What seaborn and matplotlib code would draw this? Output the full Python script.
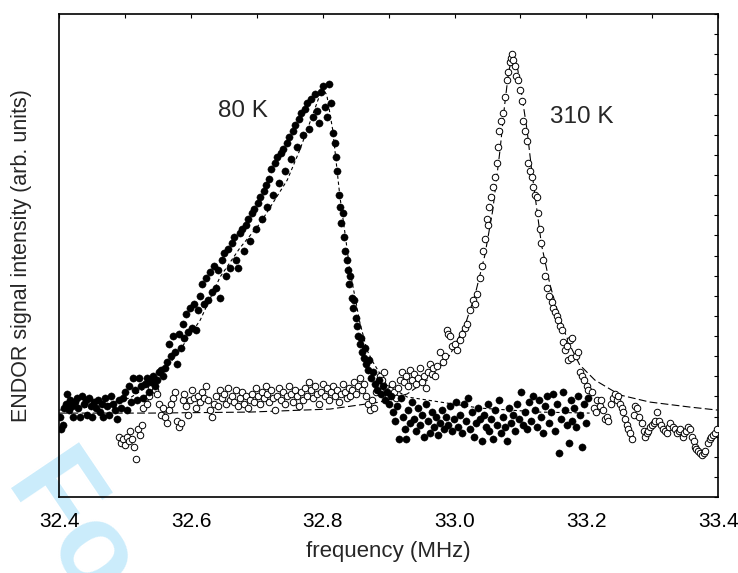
import matplotlib
matplotlib.use("Agg")
import matplotlib.pyplot as plt
import seaborn as sns
import pandas as pd
from matplotlib.ticker import MultipleLocator, NullFormatter

# ---- 80 K spectrum (filled circles) ----
freq_80k = [
    32.401, 32.403, 32.405, 32.407, 32.410, 32.412, 32.414, 32.416, 32.419, 32.421,
    32.424, 32.427, 32.429, 32.432, 32.434, 32.437, 32.440, 32.442, 32.445, 32.448,
    32.450, 32.453, 32.456, 32.459, 32.462, 32.465, 32.467, 32.470, 32.473, 32.476,
    32.479, 32.482, 32.485, 32.488, 32.491, 32.494, 32.497,
    32.500, 32.503, 32.506, 32.509, 32.512, 32.515, 32.518, 32.521, 32.524, 32.527,
    32.530, 32.533, 32.536, 32.539, 32.542, 32.545, 32.548, 32.551, 32.554, 32.557, 32.560,
    32.563, 32.566, 32.569, 32.572, 32.575, 32.578, 32.581, 32.584, 32.587, 32.590,
    32.593, 32.596, 32.599, 32.602, 32.605, 32.608, 32.611, 32.614, 32.617, 32.620,
    32.623, 32.626, 32.629, 32.632, 32.635, 32.638, 32.641, 32.644, 32.647, 32.650,
    32.653, 32.656, 32.659, 32.662, 32.665, 32.668, 32.671, 32.674, 32.677, 32.680,
    32.683, 32.686, 32.689, 32.692, 32.695, 32.698, 32.701, 32.704, 32.707, 32.710,
    32.713, 32.716, 32.719, 32.722, 32.725, 32.728, 32.731, 32.734, 32.737, 32.740,
    32.743, 32.746, 32.749, 32.752, 32.755, 32.758, 32.761, 32.764, 32.767, 32.770,
    32.773, 32.776, 32.779, 32.782, 32.785, 32.788, 32.791, 32.794, 32.797, 32.800,
    32.803, 32.806, 32.809, 32.812,
    32.815, 32.818, 32.820, 32.822, 32.824, 32.826, 32.828, 32.830, 32.832, 32.834,
    32.836, 32.838, 32.840, 32.842, 32.844, 32.846, 32.848, 32.850, 32.852, 32.854,
    32.856, 32.858, 32.860, 32.862, 32.864, 32.866, 32.868, 32.870, 32.873, 32.876,
    32.879, 32.882, 32.885, 32.888, 32.891, 32.894, 32.897,
    32.900, 32.903, 32.906, 32.909, 32.912, 32.915, 32.918, 32.921, 32.924, 32.927,
    32.930, 32.933, 32.936, 32.939, 32.942, 32.945, 32.948, 32.951, 32.954, 32.957,
    32.960, 32.963, 32.966, 32.969, 32.972, 32.975, 32.978, 32.981, 32.984, 32.987,
    32.990, 32.993, 32.996, 32.999, 33.002, 33.005, 33.008, 33.011, 33.014, 33.017,
    33.020, 33.023, 33.026, 33.029, 33.032, 33.035, 33.038, 33.041, 33.044, 33.047,
    33.050, 33.053, 33.056, 33.059, 33.062, 33.065, 33.068, 33.071, 33.074, 33.077,
    33.080, 33.083, 33.086, 33.089, 33.092, 33.095, 33.098, 33.101, 33.104, 33.107,
    33.110, 33.113, 33.116, 33.119, 33.122, 33.125, 33.128, 33.131, 33.134, 33.137,
    33.140, 33.143, 33.146, 33.149, 33.152, 33.155, 33.158, 33.161, 33.164, 33.167,
    33.170, 33.173, 33.176, 33.179, 33.182, 33.185, 33.188, 33.191, 33.194, 33.197,
    33.200, 33.203,
]
signal_80k = [
    4.0, 3.4, 3.6, 4.4, 4.6, 5.1, 4.3, 4.8, 4.5, 4.0,
    4.7, 4.9, 4.4, 4.0, 5.0, 4.6, 4.8, 4.1, 4.9, 4.5,
    4.0, 4.7, 4.4, 4.8, 4.2, 4.6, 4.0, 4.9, 4.5, 4.1,
    5.0, 4.6, 4.3, 3.9, 4.8, 4.4, 4.9,
    5.2, 4.3, 5.5, 4.7, 5.9, 5.3, 4.8, 5.9, 5.5, 4.9,
    5.6, 5.9, 5.2, 5.7, 6.0, 5.5, 5.8, 6.2, 6.3, 6.0, 6.4,
    6.7, 7.6, 7.0, 8.0, 7.2, 6.6, 8.1, 7.4, 8.6, 7.9,
    9.1, 8.2, 9.4, 8.4, 9.6, 8.3, 9.3, 10.0, 10.6, 9.6,
    10.9, 9.8, 11.2, 10.2, 11.5, 10.4, 11.3, 9.9, 11.8, 12.1,
    11.0, 12.3, 11.4, 12.6, 12.9, 11.8, 11.4, 13.1, 13.3, 12.2,
    13.5, 13.8, 12.7, 14.1, 14.3, 13.3, 14.6, 14.9, 13.8, 15.2,
    15.5, 14.4, 15.8, 16.3, 15.0, 16.6, 16.9, 15.6, 17.1, 17.3,
    16.2, 17.6, 17.9, 16.8, 18.2, 18.5, 17.4, 18.8, 19.1, 18.0,
    19.3, 19.6, 18.3, 19.8, 18.9, 20.0, 19.2, 18.6, 20.1, 20.4,
    19.4, 18.9, 20.5, 19.6,
    18.1, 17.6, 16.9, 16.2, 15.0, 14.4, 13.6, 14.1, 12.9, 12.2,
    11.8, 11.3, 10.6, 11.0, 9.9, 9.4, 9.8, 8.9, 8.5, 8.0,
    7.6, 7.9, 7.2, 6.9, 7.4, 6.6, 6.3, 6.8, 5.9, 6.2,
    5.6, 5.3, 5.8, 5.1, 5.5, 4.8, 5.2,
    4.6, 5.0, 4.2, 3.8, 4.5, 2.9, 4.9, 4.0, 3.4, 2.9,
    4.3, 3.7, 4.7, 3.9, 3.3, 4.4, 3.6, 4.1, 3.0, 4.6,
    3.8, 3.2, 4.2, 3.5, 4.0, 3.1, 3.7, 4.3, 3.4, 4.0,
    3.6, 4.5, 3.3, 3.9, 4.7, 3.5, 4.1, 3.2, 4.6, 3.8,
    4.9, 3.4, 4.2, 3.0, 3.7, 4.4, 3.9, 2.8, 4.1, 3.5,
    4.6, 3.3, 3.9, 2.9, 4.3, 3.6, 4.8, 3.2, 4.0, 3.5,
    2.8, 4.4, 3.7, 4.1, 3.3, 4.6, 3.9, 5.2, 3.6, 4.2,
    3.4, 4.7, 3.8, 5.0, 4.3, 3.5, 4.8, 4.0, 3.2, 4.5,
    5.0, 3.7, 4.2, 5.1, 3.3, 4.6, 2.2, 3.9, 5.2, 4.3,
    3.6, 2.7, 4.8, 3.8, 4.4, 3.5, 5.0, 4.1, 2.5, 4.6,
    3.7, 4.9,
]

# ---- 310 K spectrum (open circles) ----
freq_310k = [
    32.490, 32.493, 32.496, 32.499, 32.502, 32.505, 32.508, 32.511, 32.514, 32.516,
    32.519, 32.522, 32.525, 32.527, 32.530, 32.533, 32.536, 32.539, 32.542, 32.545,
    32.548, 32.551, 32.554, 32.557, 32.560, 32.563, 32.566, 32.569, 32.572, 32.575,
    32.578, 32.581, 32.584, 32.587, 32.590, 32.593, 32.596, 32.599, 32.602, 32.605,
    32.608, 32.611, 32.614, 32.617, 32.620, 32.623, 32.626, 32.629, 32.632, 32.635,
    32.638, 32.641, 32.644, 32.647, 32.650, 32.653, 32.656, 32.659, 32.662, 32.665,
    32.668, 32.671, 32.674, 32.677, 32.680, 32.683, 32.686, 32.689, 32.692, 32.695,
    32.698, 32.701, 32.704, 32.707, 32.710, 32.713, 32.716, 32.719, 32.722, 32.725,
    32.728, 32.731, 32.734, 32.737, 32.740, 32.743, 32.746, 32.749, 32.752, 32.755,
    32.758, 32.761, 32.764, 32.767, 32.770, 32.773, 32.776, 32.779, 32.782, 32.785,
    32.788, 32.791, 32.794, 32.797, 32.800, 32.803, 32.806, 32.809, 32.812, 32.815,
    32.818, 32.821, 32.824, 32.827, 32.830, 32.833, 32.836, 32.839, 32.842, 32.845,
    32.848, 32.851, 32.854, 32.857, 32.860, 32.863, 32.866, 32.869, 32.872, 32.875,
    32.878, 32.881, 32.884, 32.887, 32.890, 32.893, 32.896, 32.899, 32.902,
    32.905, 32.908, 32.911, 32.914, 32.917, 32.920, 32.923, 32.926, 32.929, 32.932,
    32.935, 32.938, 32.941, 32.944, 32.947, 32.950, 32.953, 32.956, 32.959, 32.962,
    32.965, 32.968, 32.971,
    32.974, 32.978, 32.982, 32.986, 32.988, 32.990, 32.993, 32.996, 33.000, 33.004,
    33.008, 33.012, 33.016, 33.019, 33.023, 33.028, 33.031, 33.034, 33.038, 33.041,
    33.043, 33.046, 33.049, 33.051, 33.053, 33.056, 33.058, 33.061, 33.064, 33.066,
    33.067, 33.070, 33.073, 33.076, 33.079, 33.081, 33.084, 33.086, 33.087, 33.089,
    33.091, 33.093, 33.096, 33.099, 33.102, 33.104, 33.107, 33.110, 33.111, 33.114,
    33.117, 33.119, 33.122, 33.125, 33.126, 33.129, 33.131, 33.134, 33.137, 33.140,
    33.144, 33.148, 33.149, 33.152, 33.155, 33.157, 33.160, 33.163, 33.164, 33.167,
    33.170, 33.172, 33.175, 33.177, 33.179, 33.184, 33.187, 33.190, 33.193, 33.197,
    33.201, 33.202, 33.208,
    33.211, 33.214, 33.216, 33.220, 33.223, 33.226, 33.229, 33.231, 33.233, 33.237,
    33.240, 33.243, 33.246, 33.248, 33.251, 33.254, 33.256, 33.259, 33.261, 33.263,
    33.266, 33.269, 33.272, 33.274, 33.277, 33.280, 33.284, 33.287, 33.289, 33.292,
    33.293, 33.296, 33.299, 33.302, 33.304, 33.307, 33.311, 33.314, 33.316, 33.319,
    33.322, 33.325, 33.327, 33.331, 33.334, 33.337, 33.340, 33.342, 33.346, 33.349,
    33.352, 33.355, 33.357, 33.360, 33.363, 33.365, 33.367, 33.369, 33.372, 33.375,
    33.378, 33.380, 33.384, 33.387, 33.390, 33.393, 33.395, 33.399,
]
signal_310k = [
    3.0, 2.7, 2.9, 2.6, 3.0, 2.8, 3.3, 2.9, 2.5, 1.9,
    3.4, 3.1, 3.6, 4.4, 4.9, 4.6, 5.0, 5.4, 5.8, 5.3,
    5.1, 4.6, 4.1, 4.4, 4.0, 3.7, 4.3, 4.6, 4.9, 5.2,
    3.8, 3.5, 3.7, 4.8, 5.1, 4.5, 4.1, 4.8, 5.3, 4.9,
    4.4, 5.0, 4.7, 5.2, 4.9, 5.5, 4.8, 4.3, 4.0, 4.6,
    5.0, 4.5, 5.3, 4.9, 5.1, 4.6, 5.4, 4.8, 5.0, 4.7,
    5.3, 4.5, 4.9, 5.2, 4.6, 5.0, 4.4, 4.8, 5.1, 4.7,
    5.4, 5.0, 4.6, 5.2, 4.9, 5.5, 5.1, 4.7, 5.3, 4.9,
    4.3, 5.0, 5.4, 4.8, 5.2, 4.6, 5.0, 5.5, 5.1, 4.7,
    5.3, 5.0, 4.5, 5.2, 4.8, 5.4, 5.0, 5.7, 5.3, 4.9,
    5.5, 5.1, 4.6, 5.2, 5.6, 5.0, 5.4, 4.8, 5.2, 5.5,
    5.0, 5.3, 4.7, 5.1, 5.6, 5.2, 4.9, 5.4, 5.0, 5.3,
    5.7, 5.1, 5.5, 5.9, 5.3, 5.6, 5.0, 4.6, 4.3, 4.8,
    4.4, 5.2, 5.5, 6.0, 5.8, 6.2, 5.4, 5.0, 5.3,
    5.6, 5.2, 4.9, 5.4, 5.8, 6.2, 5.7, 6.0, 5.5, 6.3,
    5.8, 6.1, 5.6, 5.9, 6.4, 5.7, 6.0, 5.4, 6.2, 6.6,
    6.1, 6.4, 6.0,
    6.5, 7.2, 6.7, 7.0, 8.3, 8.1, 8.0, 7.5, 7.6, 7.3,
    7.8, 8.1, 8.4, 8.6, 9.3, 9.8, 9.6, 10.1, 10.9, 11.5,
    12.2, 12.8, 13.8, 13.5, 14.4, 14.9, 15.4, 15.9, 16.6, 17.4,
    18.2, 18.7, 19.1, 19.9, 20.7, 21.1, 21.6, 21.8, 22.0, 21.7,
    21.4, 20.9, 20.7, 20.2, 19.7, 18.7, 18.2, 17.7, 16.6, 16.2,
    15.9, 15.4, 15.0, 14.9, 14.1, 13.3, 12.6, 11.8, 11.0, 10.4,
    10.0, 9.7, 9.4, 9.2, 9.0, 8.8, 8.5, 8.3, 7.7, 7.3,
    7.5, 6.8, 7.8, 6.9, 7.9, 7.0, 7.2, 6.2, 6.0, 5.8,
    5.5, 5.3, 5.2,
    4.4, 4.2, 4.8, 4.5, 4.8, 4.3, 3.9, 4.0, 3.8, 4.6,
    4.9, 5.1, 4.8, 5.0, 4.6, 4.4, 4.2, 3.9, 3.6, 3.4,
    3.2, 2.9, 4.1, 4.5, 4.4, 4.0, 3.7, 3.3, 3.0, 3.2,
    3.3, 3.5, 3.6, 3.7, 3.8, 4.2, 3.8, 3.6, 3.4, 3.3,
    3.2, 3.5, 3.7, 3.5, 3.4, 3.2, 3.3, 3.4, 3.0, 3.2,
    3.3, 3.5, 3.4, 3.0, 2.8, 2.5, 2.4, 2.3, 2.2, 2.1,
    2.2, 2.3, 2.7, 2.9, 3.0, 3.1, 3.2, 3.4,
]

# ---- fitted line shapes ----
fit_freq_80k = [32.400, 32.462, 32.507, 32.538, 32.560, 32.583, 32.614, 32.644, 32.674,
                32.705, 32.746, 32.765, 32.780, 32.790, 32.799, 32.806, 32.815, 32.826,
                32.834, 32.841, 32.856, 32.867, 32.876, 32.897, 32.928, 32.978, 33.038,
                33.129, 33.205]
fit_80k = [4.32, 4.52, 4.92, 5.57, 6.31, 7.30, 8.80, 10.93, 12.37,
           13.61, 15.75, 17.24, 18.58, 19.48, 20.32, 19.98, 18.24, 14.91,
           13.02, 11.28, 8.70, 7.30, 6.71, 5.57, 4.97, 4.72, 4.42,
           4.22, 4.17]

fit_freq_310k = [32.400, 32.538, 32.689, 32.811, 32.887, 32.928, 32.963, 32.993, 33.016,
                 33.031, 33.046, 33.058, 33.069, 33.076, 33.082, 33.087, 33.091, 33.096,
                 33.102, 33.110, 33.117, 33.125, 33.132, 33.145, 33.160, 33.175, 33.190,
                 33.213, 33.251, 33.296, 33.357, 33.399]
fit_310k = [4.17, 4.17, 4.22, 4.37, 4.72, 5.12, 5.91, 7.06, 8.55,
            10.04, 12.02, 14.26, 17.24, 19.48, 21.12, 21.81, 21.71, 21.22,
            19.98, 18.24, 16.25, 14.26, 12.52, 10.53, 8.80, 7.55, 6.56,
            5.81, 5.07, 4.72, 4.47, 4.32]

x_ticks = [32.4, 32.6, 32.8, 33.0, 33.2, 33.4]
x_tick_labels = ["32.4", "32.6", "32.8", "33.0", "33.2", "33.4"]

sns.set_style("white")
plt.rcParams["font.family"] = ["Liberation Sans", "DejaVu Sans"]

fig = plt.figure(figsize=(7.38, 5.73), dpi=100)
ax = fig.add_axes([0.0804, 0.1326, 0.8926, 0.843])
ax.patch.set_alpha(0)

# faint review stamp behind everything
fig.text(0.008, 0.16, "For Review Only", rotation=-56, fontsize=86,
         color="#cbecfb", fontweight="bold", zorder=-5, ha="left",
         va="baseline", rotation_mode="anchor")

df80 = pd.DataFrame({"freq": freq_80k, "signal": signal_80k})
df310 = pd.DataFrame({"freq": freq_310k, "signal": signal_310k})
f80 = pd.DataFrame({"freq": fit_freq_80k, "signal": fit_80k})
f310 = pd.DataFrame({"freq": fit_freq_310k, "signal": fit_310k})

sns.lineplot(data=f310, x="freq", y="signal", ax=ax, color="black", lw=0.8,
             zorder=2)
ax.lines[-1].set_dashes([7, 3])
sns.lineplot(data=f80, x="freq", y="signal", ax=ax, color="black", lw=0.8,
             zorder=2)
ax.lines[-1].set_dashes([3, 2.5])

sns.scatterplot(data=df310, x="freq", y="signal", ax=ax, s=22, marker="o",
                facecolor="white", edgecolor="black", linewidth=0.7, zorder=3)
sns.scatterplot(data=df80, x="freq", y="signal", ax=ax, s=27, marker="o",
                color="black", edgecolor="black", linewidth=0.3, zorder=4)

ax.set_xlim(32.4, 33.4)
ax.set_ylim(0, 24)
ax.set_xticks(x_ticks)
ax.set_xticklabels(x_tick_labels)
ax.xaxis.set_minor_locator(MultipleLocator(0.1))
ax.yaxis.set_major_locator(MultipleLocator(1))
ax.yaxis.set_major_formatter(NullFormatter())
ax.tick_params(axis="both", which="both", direction="in", top=True, right=True,
               length=3, width=0.8, labelsize=15, colors="black", pad=11)
ax.tick_params(axis="y", which="both", labelleft=False)

for s in ax.spines.values():
    s.set_linewidth(1.2)
    s.set_color("black")

ax.set_xlabel("frequency (MHz)", fontsize=16, labelpad=7)
ax.set_ylabel("ENDOR signal intensity (arb. units)", fontsize=15.5, labelpad=20)

ax.text(32.641, 19.2, "80 K", fontsize=17.5, ha="left", va="center")
ax.text(33.145, 18.9, "310 K", fontsize=17.5, ha="left", va="center")

fig.savefig("out.png", dpi=100)
